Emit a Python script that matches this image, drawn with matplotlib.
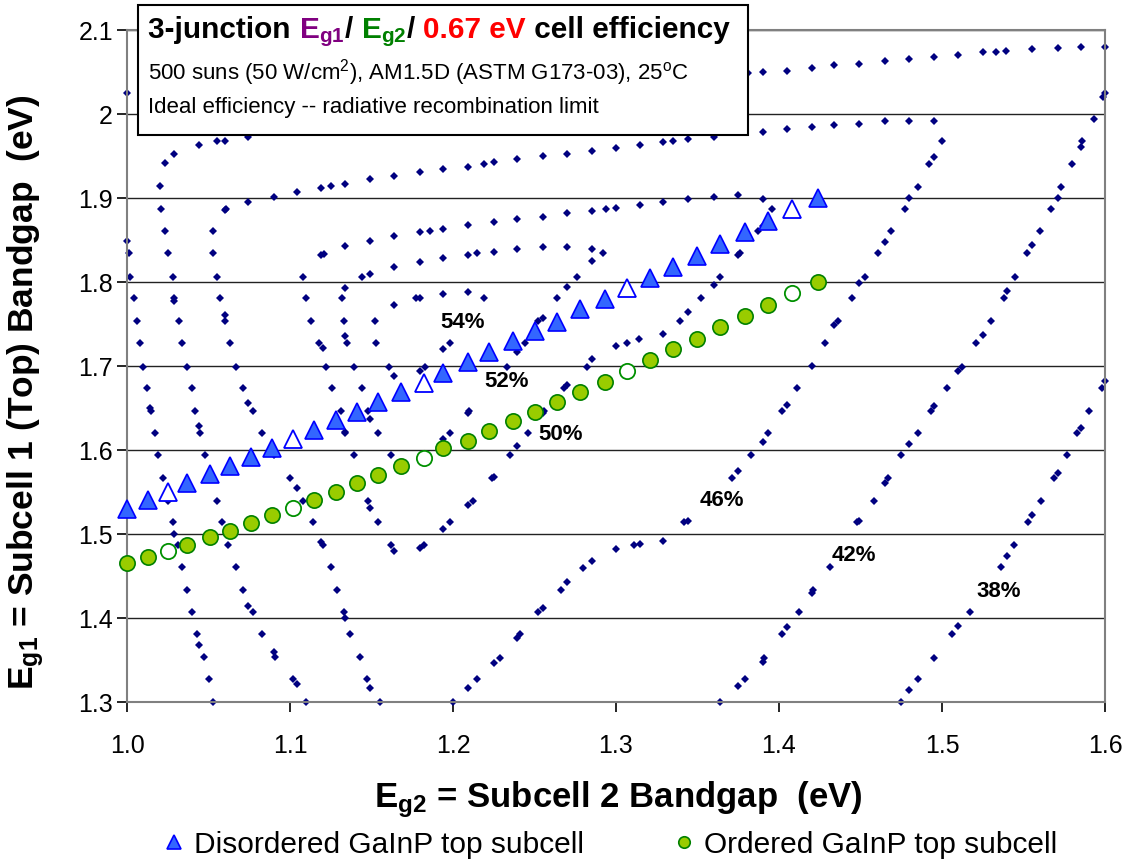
import numpy as np
import matplotlib.pyplot as plt
from matplotlib.lines import Line2D
from matplotlib.patches import Rectangle

plt.rcParams['font.family'] = ['Liberation Sans', 'DejaVu Sans']
plt.rcParams['mathtext.fontset'] = 'custom'
plt.rcParams['mathtext.rm'] = 'Liberation Sans'
plt.rcParams['mathtext.bf'] = 'Liberation Sans:bold'
plt.rcParams['mathtext.it'] = 'Liberation Sans:italic'

# iso-efficiency contour points, Eg2 (x) and Eg1 (y) in eV
c38_eg2 = [1.053, 1.050, 1.047, 1.044, 1.043, 1.040, 1.037, 1.034, 1.031, 1.029,
           1.028, 1.025, 1.022, 1.019, 1.017, 1.015, 1.014, 1.012, 1.010, 1.008,
           1.006, 1.004, 1.002, 1.001, 1.000, 1.000,
           1.475, 1.480, 1.485, 1.495, 1.506, 1.510, 1.517, 1.536, 1.540, 1.544,
           1.553, 1.555, 1.561, 1.569, 1.571, 1.577, 1.583, 1.585, 1.590, 1.598,
           1.600]
c38_eg1 = [1.300, 1.327, 1.354, 1.368, 1.381, 1.407, 1.433, 1.461, 1.487, 1.500,
           1.514, 1.539, 1.567, 1.594, 1.620, 1.646, 1.650, 1.674, 1.699, 1.727,
           1.754, 1.781, 1.806, 1.835, 1.849, 2.025,
           1.300, 1.314, 1.327, 1.352, 1.381, 1.390, 1.407, 1.461, 1.474, 1.487,
           1.514, 1.523, 1.539, 1.567, 1.573, 1.594, 1.620, 1.626, 1.646, 1.674,
           1.682]

c42_eg2 = [1.110, 1.104, 1.102, 1.091, 1.090, 1.083, 1.077, 1.074, 1.071, 1.067,
           1.062, 1.058, 1.055, 1.048, 1.045, 1.044, 1.042, 1.040, 1.037, 1.034,
           1.032, 1.029, 1.029, 1.028, 1.025, 1.023, 1.021, 1.020, 1.023, 1.029,
           1.044, 1.055, 1.060, 1.074,
           1.381, 1.390, 1.405, 1.420, 1.434, 1.449, 1.465, 1.480, 1.495, 1.510,
           1.525, 1.533, 1.539, 1.555, 1.571, 1.585, 1.600,
           1.600, 1.599, 1.593, 1.586, 1.585, 1.580, 1.573, 1.571, 1.567, 1.560,
           1.555, 1.552, 1.545, 1.540, 1.538, 1.530, 1.525, 1.521, 1.512, 1.510,
           1.503, 1.495, 1.493, 1.485, 1.480, 1.475, 1.467, 1.465, 1.458, 1.449,
           1.448, 1.431, 1.421, 1.420, 1.412, 1.405, 1.402, 1.391, 1.390, 1.379,
           1.375, 1.364]
c42_eg1 = [1.300, 1.321, 1.327, 1.354, 1.360, 1.381, 1.407, 1.414, 1.433, 1.461,
           1.487, 1.514, 1.539, 1.594, 1.620, 1.629, 1.646, 1.674, 1.699, 1.727,
           1.754, 1.777, 1.781, 1.806, 1.835, 1.861, 1.887, 1.914, 1.942, 1.952,
           1.963, 1.968, 1.968, 1.973,
           2.049, 2.050, 2.051, 2.055, 2.058, 2.060, 2.063, 2.065, 2.068, 2.070,
           2.074, 2.074, 2.075, 2.077, 2.079, 2.080, 2.080,
           2.025, 2.020, 1.994, 1.968, 1.961, 1.940, 1.913, 1.900, 1.887, 1.861,
           1.844, 1.835, 1.806, 1.789, 1.781, 1.754, 1.737, 1.727, 1.699, 1.694,
           1.674, 1.652, 1.646, 1.620, 1.607, 1.594, 1.567, 1.561, 1.539, 1.515,
           1.514, 1.461, 1.433, 1.430, 1.407, 1.389, 1.381, 1.352, 1.348, 1.327,
           1.319, 1.300]

c46_eg2 = [1.155, 1.149, 1.147, 1.143, 1.137, 1.134, 1.133, 1.129, 1.125, 1.120,
           1.119, 1.114, 1.108, 1.104, 1.100, 1.090, 1.083, 1.077, 1.074, 1.071,
           1.067, 1.063, 1.060, 1.060, 1.057, 1.055, 1.053, 1.053, 1.060, 1.061,
           1.074, 1.090, 1.104, 1.119, 1.125, 1.134, 1.149, 1.164, 1.180, 1.194,
           1.209, 1.219, 1.225, 1.239, 1.255, 1.270, 1.285, 1.300, 1.315, 1.329,
           1.335, 1.344, 1.360, 1.390, 1.405, 1.420, 1.434, 1.449, 1.465, 1.480,
           1.495, 1.500, 1.495, 1.492, 1.485, 1.480, 1.477, 1.469, 1.465, 1.461,
           1.453, 1.449, 1.445, 1.436, 1.434, 1.428, 1.420, 1.411, 1.405, 1.402,
           1.393, 1.390, 1.383, 1.375, 1.371, 1.344, 1.342, 1.329, 1.315, 1.311,
           1.300, 1.285, 1.280, 1.270, 1.266, 1.255, 1.252, 1.241, 1.239, 1.229,
           1.225, 1.215, 1.209, 1.200]
c46_eg1 = [1.300, 1.317, 1.327, 1.354, 1.381, 1.400, 1.407, 1.433, 1.461, 1.487,
           1.490, 1.514, 1.539, 1.555, 1.567, 1.594, 1.620, 1.646, 1.656, 1.674,
           1.699, 1.727, 1.754, 1.761, 1.781, 1.806, 1.835, 1.861, 1.886, 1.887,
           1.895, 1.901, 1.907, 1.912, 1.914, 1.917, 1.923, 1.926, 1.931, 1.935,
           1.937, 1.940, 1.943, 1.946, 1.950, 1.952, 1.956, 1.960, 1.963, 1.967,
           1.968, 1.970, 1.973, 1.979, 1.982, 1.985, 1.987, 1.988, 1.992, 1.992,
           1.992, 1.968, 1.949, 1.940, 1.913, 1.900, 1.887, 1.861, 1.848, 1.835,
           1.806, 1.799, 1.781, 1.754, 1.749, 1.727, 1.700, 1.674, 1.654, 1.646,
           1.620, 1.610, 1.594, 1.575, 1.567, 1.515, 1.514, 1.492, 1.488, 1.487,
           1.482, 1.468, 1.460, 1.443, 1.433, 1.412, 1.407, 1.381, 1.376, 1.352,
           1.346, 1.327, 1.317, 1.300]

c50_eg2 = [1.108, 1.110, 1.113, 1.118, 1.120, 1.122, 1.126, 1.131, 1.134, 1.134,
           1.139, 1.148, 1.149, 1.154, 1.162, 1.164, 1.180, 1.182, 1.194, 1.198,
           1.209, 1.212, 1.224, 1.225, 1.235, 1.239, 1.246, 1.255, 1.256, 1.268,
           1.270, 1.282, 1.285, 1.300, 1.307, 1.314, 1.329, 1.339, 1.344, 1.352,
           1.360, 1.364, 1.375, 1.376, 1.387, 1.390, 1.396, 1.390, 1.375, 1.360,
           1.344, 1.329, 1.315, 1.300, 1.294, 1.285, 1.270, 1.255, 1.239, 1.225,
           1.209, 1.194, 1.186, 1.180, 1.164, 1.149, 1.134, 1.121, 1.119]
c50_eg1 = [1.806, 1.781, 1.754, 1.727, 1.721, 1.699, 1.674, 1.646, 1.621, 1.620,
           1.594, 1.539, 1.531, 1.514, 1.487, 1.480, 1.483, 1.487, 1.506, 1.514,
           1.535, 1.539, 1.567, 1.568, 1.594, 1.605, 1.620, 1.644, 1.646, 1.674,
           1.677, 1.699, 1.708, 1.724, 1.727, 1.732, 1.738, 1.754, 1.764, 1.781,
           1.796, 1.806, 1.832, 1.835, 1.861, 1.867, 1.887, 1.899, 1.904, 1.901,
           1.899, 1.895, 1.892, 1.888, 1.887, 1.885, 1.882, 1.877, 1.875, 1.871,
           1.868, 1.863, 1.861, 1.860, 1.855, 1.849, 1.843, 1.833, 1.832]

c52_eg2 = [1.132, 1.133, 1.134, 1.135, 1.139, 1.144, 1.148, 1.149, 1.154, 1.162,
           1.180, 1.182, 1.194, 1.198, 1.209, 1.210, 1.233, 1.239, 1.244, 1.252,
           1.255, 1.264, 1.270, 1.276, 1.285, 1.292, 1.285, 1.270, 1.255, 1.239,
           1.225, 1.215, 1.209, 1.194, 1.180, 1.164, 1.149, 1.144, 1.134]
c52_eg1 = [1.781, 1.754, 1.736, 1.727, 1.699, 1.674, 1.646, 1.637, 1.620, 1.594,
           1.589, 1.594, 1.613, 1.620, 1.644, 1.646, 1.699, 1.717, 1.727, 1.754,
           1.757, 1.781, 1.794, 1.806, 1.825, 1.835, 1.839, 1.842, 1.842, 1.839,
           1.836, 1.835, 1.832, 1.829, 1.824, 1.818, 1.810, 1.806, 1.793]

c54_eg2 = [1.152, 1.164, 1.177, 1.180, 1.194, 1.209, 1.219, 1.198, 1.194, 1.183,
           1.180, 1.164, 1.161, 1.153]
c54_eg1 = [1.754, 1.773, 1.781, 1.781, 1.786, 1.788, 1.781, 1.727, 1.720, 1.699,
           1.694, 1.688, 1.699, 1.727]

# contour labels
pct_text = ['54%', '52%', '50%', '46%', '42%', '38%']
pct_eg2 = [1.206, 1.233, 1.266, 1.365, 1.446, 1.535]
pct_eg1 = [1.752, 1.681, 1.618, 1.540, 1.475, 1.431]

# top subcell bandgap vs middle subcell bandgap
cell_eg2 = [1.000, 1.013, 1.025, 1.037, 1.051, 1.063, 1.076, 1.089, 1.102, 1.115,
            1.128, 1.141, 1.154, 1.168, 1.182, 1.194, 1.209, 1.222, 1.237, 1.250,
            1.264, 1.278, 1.293, 1.307, 1.321, 1.335, 1.350, 1.364, 1.379, 1.393,
            1.408, 1.424]
disordered_eg1 = [1.530, 1.540, 1.550, 1.561, 1.571, 1.581, 1.592, 1.602, 1.613, 1.624,
                  1.636, 1.645, 1.657, 1.669, 1.680, 1.692, 1.705, 1.717, 1.730, 1.742,
                  1.752, 1.768, 1.780, 1.793, 1.805, 1.818, 1.831, 1.845, 1.860, 1.873,
                  1.887, 1.900]
ordered_eg1 = [1.465, 1.473, 1.480, 1.487, 1.496, 1.504, 1.513, 1.523, 1.531, 1.540,
               1.550, 1.561, 1.570, 1.581, 1.590, 1.602, 1.611, 1.623, 1.635, 1.645,
               1.657, 1.669, 1.681, 1.694, 1.707, 1.720, 1.732, 1.746, 1.760, 1.773,
               1.787, 1.800]
open_points = [2, 8, 14, 23, 30]

fig = plt.figure(figsize=(11.31, 8.6), dpi=100)
ax = fig.add_axes([0.1123, 0.1837, 0.8647, 0.7814])

contours = [(c38_eg2, c38_eg1), (c42_eg2, c42_eg1), (c46_eg2, c46_eg1),
            (c50_eg2, c50_eg1), (c52_eg2, c52_eg1), (c54_eg2, c54_eg1)]
for xs, ys in contours:
    ax.plot(xs, ys, ls='none', marker='D', ms=3.8, mfc='#000080', mec='#000080',
            mew=0, clip_on=False, zorder=2)

for s, x, y in zip(pct_text, pct_eg2, pct_eg1):
    ax.text(x, y, s, fontsize=16, fontweight='bold', ha='center', va='center', zorder=5)

x = np.array(cell_eg2)
dis = np.array(disordered_eg1)
ordr = np.array(ordered_eg1)
solid = np.ones(len(x), bool)
solid[open_points] = False

ax.plot(x[solid], dis[solid], ls='none', marker='^', ms=12.5, mfc='#3366FF',
        mec='#0000FF', mew=1.2, clip_on=False, zorder=4)
ax.plot(x[~solid], dis[~solid], ls='none', marker='^', ms=12.5, mfc='white',
        mec='#0000FF', mew=1.3, clip_on=False, zorder=4)
ax.plot(x[solid], ordr[solid], ls='none', marker='o', ms=11, mfc='#99CC00',
        mec='#008000', mew=1.2, clip_on=False, zorder=4)
ax.plot(x[~solid], ordr[~solid], ls='none', marker='o', ms=11, mfc='white',
        mec='#009000', mew=1.3, clip_on=False, zorder=4)

ax.set_xlim(1.0, 1.6)
ax.set_ylim(1.3, 2.1)
ax.set_xticks(np.arange(1.0, 1.61, 0.1))
ax.set_xticklabels(['1.0', '1.1', '1.2', '1.3', '1.4', '1.5', '1.6'])
ax.set_yticks(np.arange(1.3, 2.11, 0.1))
ax.set_yticklabels(['1.3', '1.4', '1.5', '1.6', '1.7', '1.8', '1.9', '2', '2.1'])
ax.tick_params(axis='both', direction='out', length=7, width=1.2, labelsize=18)
ax.tick_params(axis='x', pad=16)
ax.tick_params(axis='y', pad=3)
ax.yaxis.grid(True, color='#222222', lw=1.0)
ax.set_axisbelow(True)
for sp in ax.spines.values():
    sp.set_color('#808080')
    sp.set_linewidth(1.5)

ax.set_xlabel(r'$\mathbf{E_{g2}}$ = Subcell 2 Bandgap  (eV)', fontsize=25,
              fontweight='bold')
ax.xaxis.set_label_coords(0.502, -0.115)
ax.set_ylabel(r'$\mathbf{E_{g1}}$ = Subcell 1 (Top) Bandgap  (eV)', fontsize=25.5,
              fontweight='bold')
ax.yaxis.set_label_coords(-0.083, 0.461)

# caption box over the top-left of the plot
box = Rectangle((0.122, 0.843), 0.5393, 0.1512, transform=fig.transFigure,
                facecolor='white', edgecolor='black', lw=1.5, zorder=5)
fig.add_artist(box)

renderer = fig.canvas.get_renderer()
tx = 0.1309
pieces = [('3-junction ', 'black'), (r'$\mathbf{E_{g1}}$', '#800080'), ('/ ', 'black'),
          (r'$\mathbf{E_{g2}}$', '#008000'), ('/ ', 'black'), ('0.67 eV', '#FF0000'),
          (' cell efficiency', 'black')]
for s, c in pieces:
    t = fig.text(tx, 0.9558, s, color=c, fontsize=21.4, fontweight='bold',
                 va='baseline', zorder=6)
    tx += t.get_window_extent(renderer).width / fig.bbox.width

fig.text(0.1309, 0.907, r'500 suns (50 W/cm$^2$), AM1.5D (ASTM G173-03), 25$^\mathrm{o}$C',
         fontsize=16, va='baseline', zorder=6)
fig.text(0.1309, 0.8686, 'Ideal efficiency -- radiative recombination limit',
         fontsize=16, va='baseline', zorder=6)

handles = [Line2D([], [], ls='none', marker='^', ms=12.5, mfc='#3366FF', mec='#0000FF', mew=1.2),
           Line2D([], [], ls='none', marker='o', ms=11, mfc='#99CC00', mec='#008000', mew=1.2)]
fig.legend(handles, ['Disordered GaInP top subcell', 'Ordered GaInP top subcell'],
           loc='center', bbox_to_anchor=(0.540, 0.018), ncol=2, frameon=False,
           fontsize=21.5, markerscale=0.75, handlelength=0.7, handletextpad=0.32,
           columnspacing=3.0)

fig.savefig('out.png', dpi=100)
